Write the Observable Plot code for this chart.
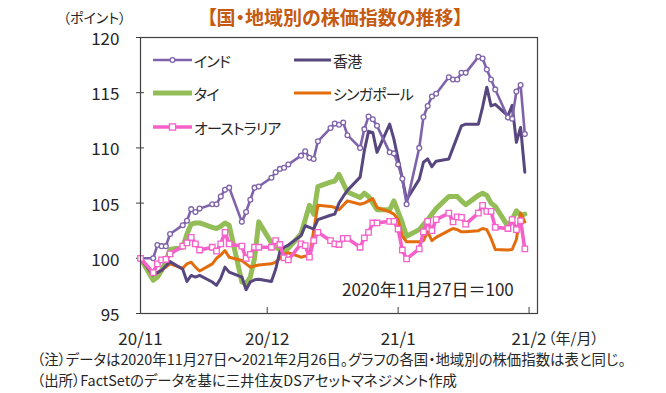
<!DOCTYPE html>
<html><head><meta charset="utf-8">
<script src="https://cdn.jsdelivr.net/npm/d3@7"></script>
<script src="https://cdn.jsdelivr.net/npm/@observablehq/plot@0.6"></script>
<style>
body{margin:0;background:#fff;font-family:"Noto Sans CJK JP","Noto Sans",sans-serif;}
#wrap{position:relative;width:666px;height:393px;overflow:hidden;background:#fff;}
#wrap svg.plot{position:absolute;left:0;top:0;}
#wrap svg.plot text{font-weight:400;}
.t{position:absolute;white-space:nowrap;font-feature-settings:"palt";color:#262626;line-height:1;}
.leg{position:absolute;display:flex;align-items:center;white-space:nowrap;font-feature-settings:"palt";font-size:15px;letter-spacing:-0.8px;color:#262626;line-height:1;}
</style></head><body><div id="wrap"></div>
<script>
// ---- data ----
const dates = ["2020-11-27","2020-11-30",
"2020-12-01","2020-12-02","2020-12-03","2020-12-04",
"2020-12-07","2020-12-08","2020-12-09","2020-12-10","2020-12-11",
"2020-12-14","2020-12-15","2020-12-16","2020-12-17","2020-12-18",
"2020-12-21","2020-12-22","2020-12-23","2020-12-24","2020-12-25",
"2020-12-28","2020-12-29","2020-12-30","2020-12-31","2021-01-01",
"2021-01-04","2021-01-05","2021-01-06","2021-01-07","2021-01-08",
"2021-01-11","2021-01-12","2021-01-13","2021-01-14","2021-01-15",
"2021-01-18","2021-01-19","2021-01-20","2021-01-21","2021-01-22",
"2021-01-25","2021-01-26","2021-01-27","2021-01-28","2021-01-29",
"2021-02-01","2021-02-02","2021-02-03","2021-02-04","2021-02-05",
"2021-02-08","2021-02-09","2021-02-10","2021-02-11","2021-02-12",
"2021-02-15","2021-02-16","2021-02-17","2021-02-18","2021-02-19",
"2021-02-22","2021-02-23","2021-02-24","2021-02-25","2021-02-26"];

const india = [100.0,100.0,
101.2,101.1,101.1,102.2,
103.0,103.4,104.45,104.2,104.5,
104.9,104.9,105.6,106.2,106.4,
103.3,104.2,105.3,106.4,106.5,
107.3,107.8,108.1,108.2,108.5,
109.3,109.7,109.1,109.0,110.6,
111.8,112.2,112.1,112.3,111.15,
110.0,111.7,112.85,112.6,112.0,
109.6,109.5,108.5,107.2,104.9,
110.0,112.8,113.8,114.65,114.9,
116.4,116.2,116.2,116.8,116.8,
118.25,118.1,117.1,116.2,115.3,
112.75,112.65,115.1,115.7,111.25];

const hongKong = [100.0,98.5,
98.7,98.9,99.3,99.7,
99.0,97.9,98.45,98.3,98.45,
97.85,97.55,98.2,99.2,98.75,
98.3,97.15,97.85,98.05,98.1,
97.9,99.0,100.6,101.0,101.2,
102.05,102.95,102.8,102.65,103.5,
103.9,104.0,105.0,105.6,106.15,
107.35,109.75,111.5,111.4,109.6,
112.15,110.8,109.0,107.2,105.3,
107.15,108.7,109.0,108.3,108.8,
109.0,110.0,111.0,112.0,112.15,
112.15,113.7,115.5,113.8,113.95,
112.9,113.85,110.5,111.85,107.8];

const thailand = [100.0,98.0,
98.3,98.9,99.7,100.8,
101.0,102.2,103.1,103.2,103.2,
102.8,102.7,102.9,103.2,103.0,
97.85,97.7,98.3,100.0,103.3,
101.4,101.0,100.8,100.7,100.9,
102.2,103.5,104.8,104.0,106.5,
106.9,107.0,107.6,106.8,106.0,
105.5,105.9,105.6,105.0,104.4,
104.4,105.2,104.2,103.2,102.0,
102.6,103.05,103.5,104.0,104.5,
105.6,105.6,105.6,105.2,104.85,
105.7,105.9,105.7,105.0,104.7,
102.9,103.5,104.3,103.9,104.0];

const singapore = [100.0,98.5,
98.7,98.9,99.2,99.5,
99.1,99.5,99.65,99.2,98.85,
99.5,100.0,100.3,100.7,100.1,
99.8,99.5,99.2,99.3,99.4,
99.5,99.65,100.0,100.4,100.5,
100.1,100.2,100.2,102.5,104.8,
104.7,104.6,104.4,104.8,105.2,
104.9,105.0,105.2,105.4,104.6,
104.2,104.0,103.5,102.0,101.5,
101.5,101.6,102.4,101.6,101.9,
102.5,102.7,102.6,102.4,102.4,
102.5,102.7,102.6,101.8,100.8,
100.75,100.8,101.7,104.1,103.3];

const australia = [100.0,98.7,
99.5,99.85,99.9,100.4,
101.1,101.4,101.9,101.3,100.75,
101.0,100.65,101.3,102.35,101.3,
101.1,100.0,100.35,101.0,101.0,
101.0,101.6,101.25,100.05,99.85,
101.3,101.15,100.1,101.6,102.35,
101.6,101.3,101.25,101.8,101.8,
101.0,101.85,102.35,103.2,103.2,
103.35,103.35,102.65,100.75,99.95,
100.85,102.4,103.35,102.5,103.5,
104.1,103.3,103.75,103.7,103.1,
104.1,104.8,104.25,104.25,102.8,
102.7,103.5,102.6,103.4,100.85];

const seriesNames = ["インド","香港","タイ","シンガポール","オーストラリア"];
const yTicks = [95,100,105,110,115,120];
const xTickDates = ["2020-11-27","2020-12-27","2021-01-27","2021-02-27"];
const xTickLabels = ["20/11","20/12","21/1","21/2"];
const xDomain = ["2020-11-27","2021-03-01"];
const texts = {
  title: "【国・地域別の株価指数の推移】",
  yUnit: "（ポイント）",
  xUnit: "（年/月）",
  base: "2020年11月27日＝100",
  note1: "（注）データは2020年11月27日～2021年2月26日。グラフの各国・地域別の株価指数は表と同じ。",
  note2: "（出所）FactSetのデータを基に三井住友DSアセットマネジメント作成"
};

// ---- styles ----
const style = {
  "インド": {color:"#7f63aa", width:2.6, marker:"circle"},
  "香港": {color:"#58467f", width:3, marker:null},
  "タイ": {color:"#93bd56", width:5, marker:null},
  "シンガポール": {color:"#e36c0c", width:3, marker:null},
  "オーストラリア": {color:"#f560c9", width:3.6, marker:"square"}
};
const drawOrder = ["タイ","シンガポール","香港","インド","オーストラリア"];

// ---- build ----
const seriesValues = {"インド":india,"香港":hongKong,"タイ":thailand,"シンガポール":singapore,"オーストラリア":australia};
const rows = [];
for (const name of seriesNames) {
  seriesValues[name].forEach((v,i)=>rows.push({series:name, date:new Date(dates[i]), value:v}));
}
const tickDates = xTickDates.map(d=>new Date(d));
const tickLabelMap = new Map(tickDates.map((d,i)=>[+d, xTickLabels[i]]));
const font = "'Noto Sans CJK JP','Noto Sans',sans-serif";

const marks = [];
for (const name of drawOrder) {
  const s = style[name];
  const data = rows.filter(r=>r.series===name);
  marks.push(Plot.line(data,{x:"date",y:"value",stroke:s.color,strokeWidth:s.width,strokeLinejoin:"round",strokeLinecap:"round"}));
  if (s.marker==="circle") marks.push(Plot.dot(data,{x:"date",y:"value",symbol:"circle",r:2.4,fill:"white",stroke:s.color,strokeWidth:1.3}));
  if (s.marker==="square") marks.push(Plot.dot(data,{x:"date",y:"value",symbol:"square",r:3.1,fill:"white",stroke:s.color,strokeWidth:1.3}));
}

const chart = Plot.plot({
  width:666, height:393,
  marginLeft:140, marginRight:129, marginTop:37, marginBottom:80,
  style:{fontFamily:font, fontSize:"17px", color:"#262626", background:"transparent", overflow:"visible"},
  x:{type:"utc", domain:xDomain.map(d=>new Date(d))},
  y:{domain:[95,120]},
  marks:[
    Plot.axisY(yTicks,{tickSize:8, dx:4, fill:"none", label:null, stroke:"#404040"}),
    Plot.axisY(yTicks,{tickSize:0, tickPadding:21, dy:2, label:null, fontSize:17}),
    Plot.axisX(tickDates,{tickSize:6, dy:-6, fill:"none", label:null, stroke:"#404040"}),
    Plot.axisX(tickDates,{tickSize:0, tickPadding:19, label:null, fontSize:17, tickFormat:d=>tickLabelMap.get(+d)}),
    ...marks,
    Plot.frame({stroke:"#404040", strokeWidth:1.2})
  ]
});
chart.classList.add("plot");
const wrap = document.getElementById("wrap");
wrap.appendChild(chart);

function addText(txt, left, top, size, extra) {
  const d = document.createElement("div");
  d.className = "t";
  d.textContent = txt;
  d.style.left = left+"px"; d.style.top = top+"px"; d.style.fontSize = size+"px";
  Object.assign(d.style, extra||{});
  wrap.appendChild(d);
  return d;
}
addText(texts.title, 135, 7, 19, {width:"400px", textAlign:"center", fontWeight:"bold", color:"#c55a11"});
addText(texts.yUnit, 63, 10, 14, {});
addText(texts.xUnit, 548, 330, 15, {});
addText(texts.base, 342, 280, 17, {});
addText(texts.note1, 37, 352, 14.4, {});
addText(texts.note2, 37, 373, 14.4, {});

// legend
const legendPos = {"インド":[153,60],"香港":[294,60],"タイ":[153,93],"シンガポール":[294,93],"オーストラリア":[153,127]};
for (const name of seriesNames) {
  const s = style[name];
  const [lx, ly] = legendPos[name];
  const el = document.createElement("div");
  el.className = "leg";
  el.style.left = lx+"px"; el.style.top = (ly-9)+"px"; el.style.height="18px";
  const w = name==="香港"||name==="シンガポール" ? 37 : 39;
  let m = "";
  if (s.marker==="circle") m = `<circle cx="${w/2}" cy="9" r="2.4" fill="white" stroke="${s.color}" stroke-width="1.3"/>`;
  if (s.marker==="square") m = `<rect x="${w/2-3.1}" y="5.9" width="6.2" height="6.2" fill="white" stroke="${s.color}" stroke-width="1.3"/>`;
  el.innerHTML = `<svg width="${w}" height="18"><line x1="0" x2="${w}" y1="9" y2="9" stroke="${s.color}" stroke-width="${s.width}"/>${m}</svg><span style="margin-left:2px">${name}</span>`;
  wrap.appendChild(el);
}
</script></body></html>
